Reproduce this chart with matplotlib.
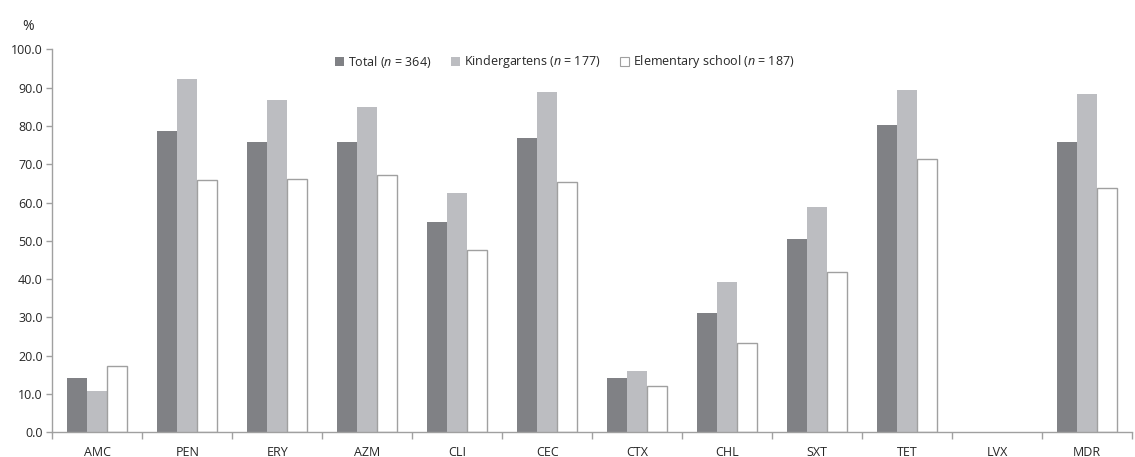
import matplotlib
matplotlib.use("Agg")
import matplotlib.pyplot as plt
import numpy as np
from matplotlib.patches import Patch

categories = ["AMC", "PEN", "ERY", "AZM", "CLI", "CEC", "CTX", "CHL", "SXT", "TET", "LVX", "MDR"]
total = [14.2, 78.7, 75.9, 75.7, 54.9, 76.8, 14.1, 31.1, 50.4, 80.2, 0.0, 75.7]
kindergartens = [10.9, 92.2, 86.7, 84.9, 62.4, 88.9, 16.0, 39.2, 58.9, 89.5, 0.0, 88.4]
elementary = [17.4, 65.9, 66.1, 67.1, 47.7, 65.3, 12.0, 23.2, 41.9, 71.4, 0.0, 63.9]
series_labels = ["Total ($\\it{n}$ = 364)", "Kindergartens ($\\it{n}$ = 177)",
                 "Elementary school ($\\it{n}$ = 187)"]
yticks = [0, 10, 20, 30, 40, 50, 60, 70, 80, 90, 100]

plt.rcParams['font.family'] = ['Open Sans', 'DejaVu Sans']
plt.rcParams['mathtext.fontset'] = 'custom'
plt.rcParams['mathtext.rm'] = 'Open Sans'
plt.rcParams['mathtext.it'] = 'Open Sans:italic'

dark = "#808185"
light = "#bcbdc1"
edge = "#a0a0a0"
txt = "#262626"

fig = plt.figure(figsize=(11.35, 4.57), dpi=100)
ax = fig.add_axes([0.0461, 0.054, 0.9513, 0.838])

x = np.arange(len(categories))
w = 0.222
ax.bar(x - w, total, w, color=dark, linewidth=0)
ax.bar(x, kindergartens, w, color=light, linewidth=0)
ax.bar(x + w, elementary, w, color="white", edgecolor=edge,
       linewidth=[1.0 if v > 0 else 0.0 for v in elementary])

ax.set_xlim(-0.5, len(categories) - 0.5)
ax.set_ylim(0, 100)
ax.set_yticks(yticks)
ax.set_yticklabels([f"{v:.1f}" for v in yticks])
ax.set_xticks(x)
ax.set_xticklabels(categories)
ax.set_xticks(np.arange(len(categories) + 1) - 0.5, minor=True)
ax.tick_params(axis='x', which='major', length=0, pad=10, labelsize=9, colors=txt)
ax.tick_params(axis='x', which='minor', length=5, color=edge, width=1)
ax.tick_params(axis='y', length=4, color=edge, width=1, pad=3, labelsize=9, labelcolor=txt)

for s in ["top", "right"]:
    ax.spines[s].set_visible(False)
for s in ["left", "bottom"]:
    ax.spines[s].set_color(edge)
    ax.spines[s].set_linewidth(1)

fig.text(22 / 1135, 1 - 26 / 457, "%", fontsize=10, color=txt, va="center", ha="left")

handles = [Patch(facecolor=dark, edgecolor="none"),
           Patch(facecolor=light, edgecolor="none"),
           Patch(facecolor="white", edgecolor=edge, linewidth=0.8)]
fig.legend(handles, series_labels, loc="center", bbox_to_anchor=(565 / 1135, 1 - 62 / 457),
           ncol=3, frameon=False, fontsize=9, handlelength=0.7, handleheight=0.7,
           handletextpad=0.3, columnspacing=1.6, labelcolor=txt)

fig.savefig("out.png", dpi=100)
